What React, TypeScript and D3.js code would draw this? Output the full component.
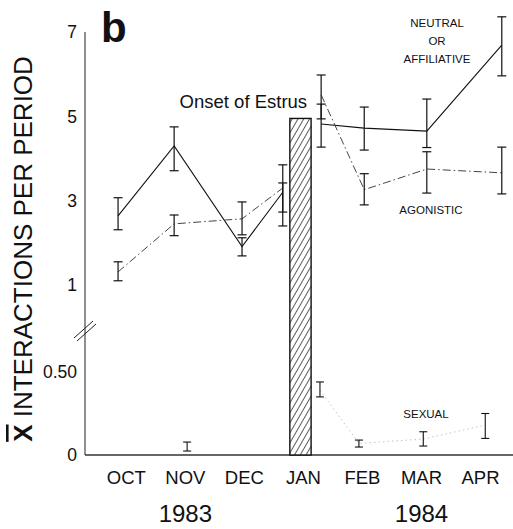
import React from "react";
import * as d3 from "d3";

// month categories and year groups
const months = ["OCT", "NOV", "DEC", "JAN", "FEB", "MAR", "APR"];
const years = ["1983", "1984"];
const yearAt = [1, 5];

const upperTicks = [1, 3, 5, 7];
const lowerTicks = [0, 0.5];
const lowerTickText = ["0", "0.50"];

// sampling periods (months after OCT)
const periods = [-0.14, 0.81, 1.96, 2.65, 3.3, 4.03, 5.09, 6.36];

const neutralMean = [2.64, 4.3, 1.91, 3.2, 4.82, 4.72, 4.65, 6.69];
const neutralLow = [2.31, 3.71, 1.69, 2.4, 4.27, 4.2, 4.26, 5.96];
const neutralHigh = [3.07, 4.75, 2.12, 3.42, 5.29, 5.22, 5.41, 7.36];

const agonMean = [1.31, 2.45, 2.57, 3.3, 5.51, 3.26, 3.75, 3.66];
const agonLow = [1.1, 2.17, 2.19, 2.73, 4.94, 2.9, 3.18, 3.16];
const agonHigh = [1.55, 2.66, 2.97, 3.85, 5.98, 3.64, 4.16, 4.27];

const sexualPeriods = [1.03, 3.28, 3.94, 5.03, 6.08];
const sexualMean = [0.05, 0.39, 0.07, 0.096, 0.18];
const sexualLow = [0.024, 0.35, 0.048, 0.054, 0.1];
const sexualHigh = [0.078, 0.44, 0.09, 0.14, 0.25];

// onset of estrus
const estrusFrom = 2.77;
const estrusTo = 3.13;
const estrusTop = 4.95;

const FONT = "'Liberation Sans', Arial, Helvetica, sans-serif";

const App = () => {
  const x = d3.scaleLinear().domain([-0.7, 6.55]).range([85, 513]);
  const yUp = d3.scaleLinear().domain([1, 7]).range([285, 32]);
  const yLow = d3.scaleLinear().domain([0, 0.5]).range([455, 372]);

  const x0 = x.range()[0];
  const yBase = yLow(0);
  const breakY = 331;

  const line = d3.line();

  const neutralPts = periods.map((p, i) => [x(p), yUp(neutralMean[i])] as [number, number]);
  const agonPts = periods.map((p, i) => [x(p), yUp(agonMean[i])] as [number, number]);
  const sexualPts = sexualPeriods.map((p, i) => [x(p), yLow(sexualMean[i])] as [number, number]);

  const errBar = (px: number, lo: number, hi: number, cap: number, key: string, w = 1.2) => (
    <g key={key} stroke="#111" strokeWidth={w} fill="none">
      <line x1={px} x2={px} y1={lo} y2={hi} />
      <line x1={px - cap / 2} x2={px + cap / 2} y1={lo} y2={lo} />
      <line x1={px - cap / 2} x2={px + cap / 2} y1={hi} y2={hi} />
    </g>
  );

  return (
    <svg
      width={513}
      height={529}
      style={{ position: "absolute", left: 0, top: 0, background: "#fff" }}
      fontFamily={FONT}
    >
      <defs>
        <pattern
          id="hatch"
          patternUnits="userSpaceOnUse"
          width={5}
          height={10}
          patternTransform="rotate(30)"
        >
          <rect width={5} height={10} fill="#fff" />
          <line x1={2.5} x2={2.5} y1={0} y2={10} stroke="#333" strokeWidth={0.8} />
        </pattern>
      </defs>

      {/* axes */}
      <line x1={x0} x2={x0} y1={yUp(7)} y2={yBase} stroke="#222" strokeWidth={1} />
      <line x1={x0} x2={513} y1={yBase} y2={yBase} stroke="#333" strokeWidth={1.6} />
      <g stroke="#222" strokeWidth={1}>
        <line x1={x0 - 11} x2={x0 + 8} y1={breakY + 7} y2={breakY - 10} />
        <line x1={x0 - 8} x2={x0 + 11} y1={breakY + 10} y2={breakY - 7} />
      </g>

      {upperTicks.map((t) => (
        <text key={"u" + t} x={77} y={yUp(t)} dy="0.36em" fontSize={17.5} textAnchor="end" fill="#111">
          {t}
        </text>
      ))}
      {lowerTicks.map((t, i) => (
        <text key={"l" + t} x={77} y={yLow(t)} dy="0.36em" fontSize={17.5} textAnchor="end" fill="#111">
          {lowerTickText[i]}
        </text>
      ))}

      {months.map((m, i) => (
        <text key={m} x={x(i)} y={484} fontSize={18.5} textAnchor="middle" fill="#111">
          {m}
        </text>
      ))}
      {years.map((yr, i) => (
        <text key={yr} x={x(yearAt[i])} y={522} fontSize={24} textAnchor="middle" fill="#111">
          {yr}
        </text>
      ))}

      <text
        transform={`translate(32, 249) rotate(-90)`}
        fontSize={26}
        textAnchor="middle"
        fill="#111"
      >
        <tspan fontWeight="bold" style={{ textDecoration: "overline" }}>X</tspan> INTERACTIONS PER PERIOD
      </text>

      <text x={101} y={42} fontSize={42} fontWeight="bold" fill="#111">
        b
      </text>

      {/* neutral / affiliative */}
      <path d={line(neutralPts.slice(0, 4)) || ""} fill="none" stroke="#111" strokeWidth={1.1} />
      <path d={line(neutralPts.slice(4)) || ""} fill="none" stroke="#111" strokeWidth={1.1} />
      {periods.map((p, i) =>
        errBar(x(p), yUp(neutralLow[i]), yUp(neutralHigh[i]), 9, "n" + i)
      )}

      {/* agonistic */}
      <path
        d={line(agonPts.slice(0, 4)) || ""}
        fill="none"
        stroke="#444"
        strokeWidth={1}
        strokeDasharray="8,3,1.5,3"
      />
      <path
        d={line(agonPts.slice(4)) || ""}
        fill="none"
        stroke="#444"
        strokeWidth={1}
        strokeDasharray="8,3,1.5,3"
      />
      {periods.map((p, i) => errBar(x(p), yUp(agonLow[i]), yUp(agonHigh[i]), 9, "a" + i))}

      {/* sexual */}
      <path
        d={line(sexualPts.slice(1)) || ""}
        fill="none"
        stroke="#c4c4c4"
        strokeWidth={1}
        strokeDasharray="1.5,3"
      />
      {sexualPeriods.map((p, i) =>
        errBar(x(p), yLow(sexualLow[i]), yLow(sexualHigh[i]), 8, "s" + i, 1.1)
      )}

      {/* estrus bar */}
      <rect
        x={x(estrusFrom)}
        y={yUp(estrusTop)}
        width={x(estrusTo) - x(estrusFrom)}
        height={yBase - yUp(estrusTop)}
        fill="url(#hatch)"
        stroke="#111"
        strokeWidth={1.4}
      />
      <text x={x(estrusTo) - 4} y={yUp(estrusTop) - 10} fontSize={18.5} textAnchor="end" fill="#111">
        Onset of Estrus
      </text>

      {/* series labels */}
      <g fontSize={11.5} textAnchor="middle" fill="#111">
        <text x={437} y={27}>NEUTRAL</text>
        <text x={437} y={45}>OR</text>
        <text x={437} y={63}>AFFILIATIVE</text>
        <text x={431} y={214}>AGONISTIC</text>
        <text x={426} y={418}>SEXUAL</text>
      </g>
    </svg>
  );
};

export default App;
